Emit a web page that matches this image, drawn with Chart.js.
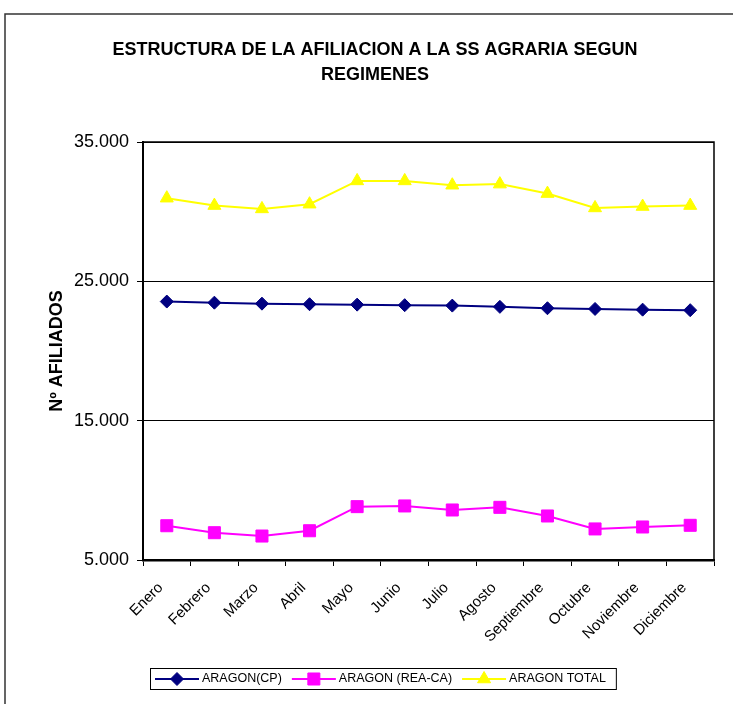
<!DOCTYPE html>
<html>
<head>
<meta charset="utf-8">
<script src="https://cdn.jsdelivr.net/npm/chart.js@4/dist/chart.umd.min.js"></script>
<style>
  html, body { margin: 0; padding: 0; background: #fff; overflow: hidden; }
  #wrap { width: 733px; height: 704px; }
</style>
</head>
<body>
<div id="wrap"><canvas id="chart" width="733" height="704"></canvas></div>
<script>
  // Afiliados SS agraria, Aragón, por mes
  const meses = ['Enero', 'Febrero', 'Marzo', 'Abril', 'Mayo', 'Junio', 'Julio',
    'Agosto', 'Septiembre', 'Octubre', 'Noviembre', 'Diciembre'];
  const aragonCP = [23550, 23470, 23400, 23360, 23330, 23290, 23260, 23170, 23070, 23020, 22970, 22930];
  const aragonREA = [7460, 6960, 6720, 7100, 8830, 8880, 8590, 8780, 8160, 7230, 7370, 7490];
  const aragonTotal = [30970, 30440, 30200, 30540, 32210, 32210, 31900, 31980, 31300, 30270, 30370, 30440];
  const yTicks = [5000, 15000, 25000, 35000];

  const navy = '#000080';
  const magenta = '#FF00FF';
  const yellow = '#FFFF00';
  const FONT = 'Arial, "Liberation Sans", sans-serif';

  const fmtMiles = (v) => String(v).replace(/\B(?=(\d{3})+(?!\d))/g, '.');

  // marco exterior + borde del área de trazado
  const frame = {
    id: 'frame',
    beforeDraw(chart) {
      const ctx = chart.ctx;
      ctx.save();
      ctx.fillStyle = '#fff';
      ctx.fillRect(0, 0, chart.width, chart.height);
      ctx.strokeStyle = '#333';
      ctx.lineWidth = 1.5;
      ctx.strokeRect(5, 14, 900, 900);
      ctx.restore();
    },
    afterDatasetsDraw(chart) {
      const { ctx, chartArea: a } = chart;
      ctx.save();
      ctx.strokeStyle = '#000';
      ctx.lineWidth = 1.5;
      ctx.beginPath();
      ctx.moveTo(a.left, a.top);
      ctx.lineTo(a.right, a.top);
      ctx.lineTo(a.right, a.bottom);
      ctx.stroke();
      ctx.restore();
    },
  };

  // leyenda estilo Excel: línea + marcador
  const legendBox = {
    id: 'legendBox',
    afterDraw(chart) {
      const ctx = chart.ctx;
      const top = 668, h = 21, left = 150;
      ctx.save();
      ctx.font = '12.5px ' + FONT;
      ctx.textBaseline = 'middle';
      const items = chart.data.datasets;
      let x = left + 5;
      const pos = [];
      items.forEach((ds) => {
        const w = ctx.measureText(ds.label).width;
        pos.push(x);
        x += 47 + w + 10;
      });
      const right = x;
      ctx.fillStyle = '#fff';
      ctx.fillRect(left, top, right - left, h);
      ctx.strokeStyle = '#000';
      ctx.lineWidth = 1;
      ctx.strokeRect(left + 0.5, top + 0.5, right - left, h);
      const cy = top + h / 2 + 0.5;
      items.forEach((ds, i) => {
        const x0 = pos[i];
        ctx.strokeStyle = ds.borderColor;
        ctx.lineWidth = 2;
        ctx.beginPath();
        ctx.moveTo(x0, cy);
        ctx.lineTo(x0 + 44, cy);
        ctx.stroke();
        ctx.fillStyle = ds.pointBackgroundColor;
        ctx.strokeStyle = ds.pointBorderColor;
        ctx.lineWidth = 1;
        Chart.helpers.drawPoint(ctx, {
          pointStyle: ds.pointStyle, radius: ds.pointRadius, rotation: 0, borderWidth: 1,
        }, x0 + 22, cy);
        ctx.fillStyle = '#000';
        ctx.fillText(ds.label, x0 + 47, cy);
      });
      ctx.restore();
    },
  };

  const lineSet = (label, data, color, style, radius) => ({
    label,
    data,
    borderColor: color,
    backgroundColor: color,
    borderWidth: 2,
    pointStyle: style,
    pointRadius: radius,
    pointBackgroundColor: color,
    pointBorderColor: color,
    pointBorderWidth: 1,
    tension: 0,
  });

  new Chart(document.getElementById('chart'), {
    type: 'line',
    data: {
      labels: meses,
      datasets: [
        lineSet('ARAGON(CP)', aragonCP, navy, 'rectRot', 6.5),
        lineSet('ARAGON (REA-CA)', aragonREA, magenta, 'rect', 8.5),
        lineSet('ARAGON TOTAL', aragonTotal, yellow, 'triangle', 7.5),
      ],
    },
    options: {
      responsive: false,
      animation: false,
      layout: { padding: { left: 36, right: 19, top: 0, bottom: 0 } },
      plugins: {
        legend: { display: false },
        tooltip: { enabled: false },
        title: {
          display: true,
          text: ['ESTRUCTURA DE LA AFILIACION A LA SS AGRARIA SEGUN', 'REGIMENES'],
          color: '#000',
          font: { family: FONT, size: 18, weight: 'bold', lineHeight: 1.39 },
          padding: { top: 37.5, bottom: 54.5 },
        },
      },
      scales: {
        x: {
          offset: true,
          afterFit: (s) => { s.height = 144; },
          grid: { display: true, offset: true, drawOnChartArea: false, drawTicks: true, tickLength: 6, color: '#000' },
          border: { display: true, color: '#000', width: 2.5 },
          ticks: {
            autoSkip: false, minRotation: 45, maxRotation: 45, padding: 13, labelOffset: -6, color: '#000',
            font: { family: FONT, size: 15 },
          },
        },
        y: {
          min: 5000,
          max: 35000,
          afterFit: (s) => { s.width = 107; },
          afterBuildTicks: (s) => { s.ticks = yTicks.map((v) => ({ value: v })); },
          grid: { color: '#000', lineWidth: 1, drawTicks: true, tickLength: 6 },
          border: { display: true, color: '#000', width: 2 },
          ticks: {
            padding: 8, color: '#000',
            font: { family: FONT, size: 18 },
            callback: (v) => fmtMiles(v),
          },
          title: {
            display: true,
            text: 'Nº AFILIADOS',
            color: '#000',
            padding: { top: 10, bottom: 0 },
            font: { family: FONT, size: 18, weight: 'bold' },
          },
        },
      },
    },
    plugins: [frame, legendBox],
  });
</script>
</body>
</html>
